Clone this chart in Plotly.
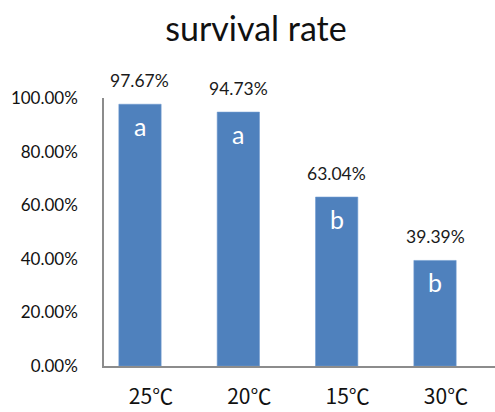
import plotly.graph_objects as go

# Survival rate by temperature treatment
temps = ["25℃", "20℃", "15℃", "30℃"]
survival = [97.67, 94.73, 63.04, 39.39]
groups = ["a", "a", "b", "b"]
y_ticks = [0, 20, 40, 60, 80, 100]

FONT = "Lato, 'Noto Sans CJK SC', sans-serif"
CJK_FONT = "'Noto Sans CJK SC', sans-serif"
BAR_BLUE = "#4F81BD"
AXIS_GREY = "#8C8C8C"

fig = go.Figure()
fig.add_trace(go.Bar(
    x=temps,
    y=survival,
    width=0.43,
    marker=dict(color=BAR_BLUE, line=dict(color="#6F9BD0", width=0.6)),
    hoverinfo="skip",
))

for t, v, g in zip(temps, survival, groups):
    # value label above the bar
    fig.add_annotation(
        x=t, y=v, text=f"{v:.2f}%", showarrow=False,
        yanchor="bottom", yshift=11,
        font=dict(family=FONT, size=17.5, color="#1a1a1a"),
    )
    # significance letter inside the top of the bar
    fig.add_annotation(
        x=t, y=v, text=g, showarrow=False,
        yanchor="top", yshift=-5,
        font=dict(family=FONT, size=25, color="white"),
    )

fig.update_layout(
    width=495, height=412,
    margin=dict(l=104, r=0, t=98, b=46),
    paper_bgcolor="white", plot_bgcolor="white",
    showlegend=False,
    title=dict(text="survival rate", x=0.517, xanchor="center", y=0.93, yanchor="middle",
               font=dict(family=FONT, size=34, color="#111111")),
    font=dict(family=FONT),
)
fig.update_xaxes(
    type="category", range=[-0.366, 3.61],
    showline=True, linecolor=AXIS_GREY, linewidth=1.5,
    ticks="", showgrid=False,
    tickfont=dict(family=CJK_FONT, size=21, color="#111111"),
    ticklabelstandoff=11, ticklabelshift=11,
)
fig.update_yaxes(
    range=[0, 100], tickvals=y_ticks,
    ticktext=[f"{v:.2f}%" for v in y_ticks],
    showline=True, linecolor=AXIS_GREY, linewidth=1.5,
    ticks="", showgrid=False, zeroline=False,
    tickfont=dict(family=FONT, size=17, color="#111111"),
    ticklabelstandoff=21,
)

fig.write_html("out.html")
